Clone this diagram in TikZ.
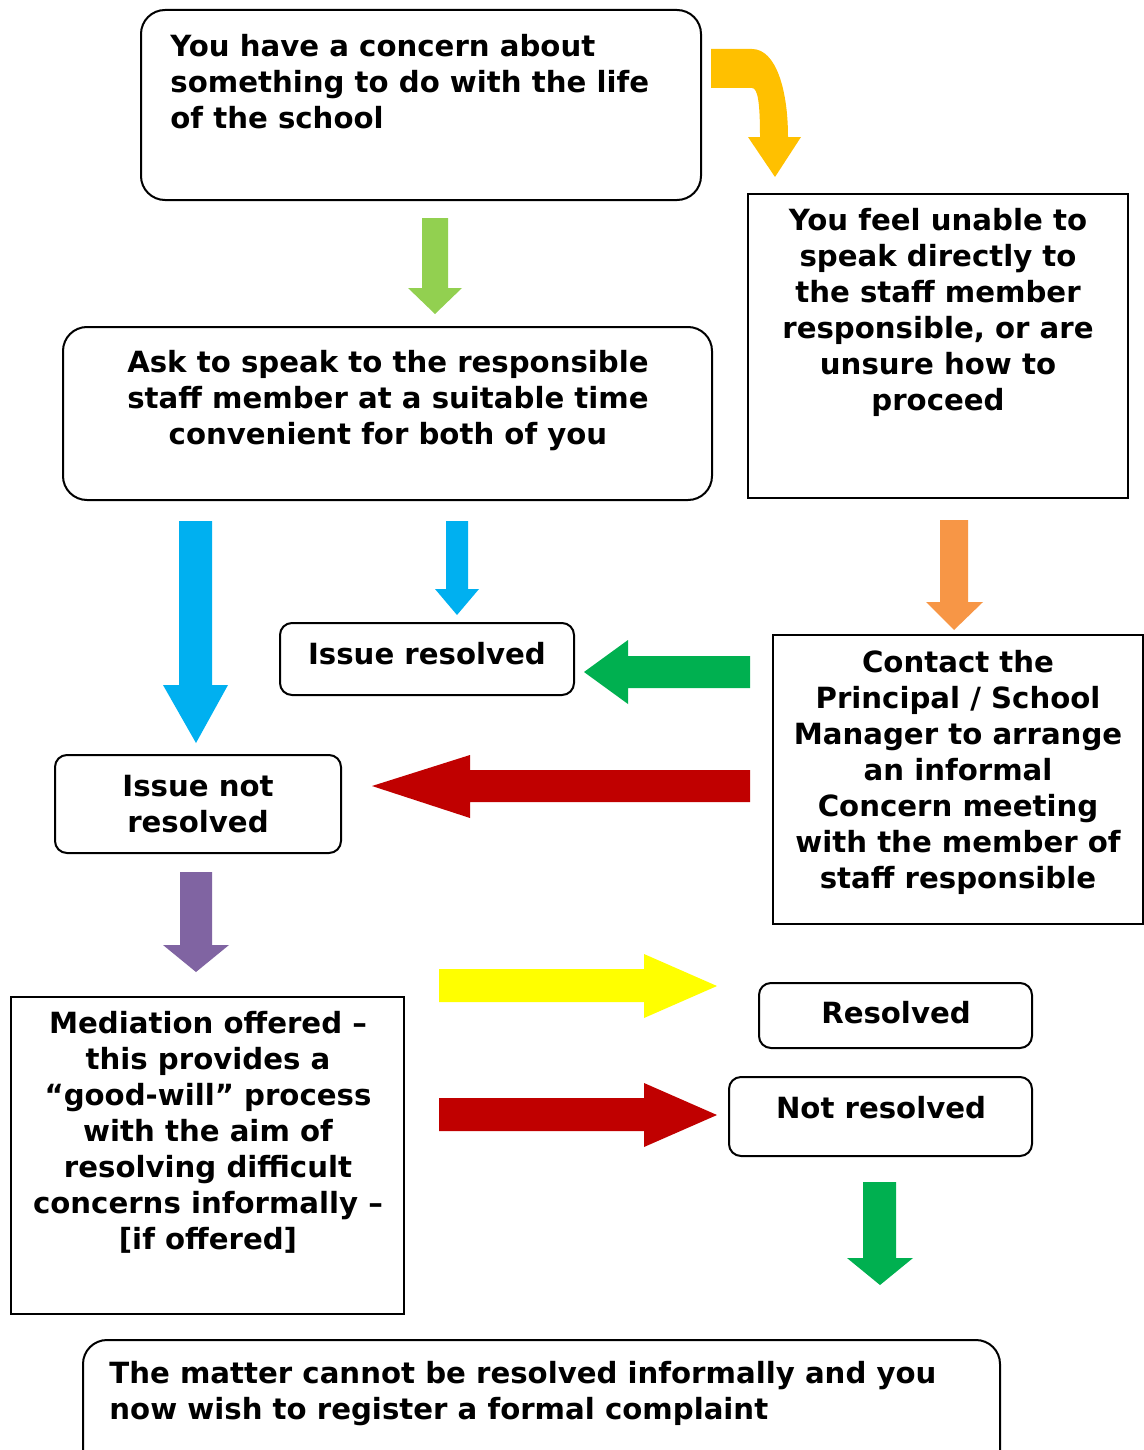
\documentclass[tikz,border=0pt]{standalone}
\usepackage{fontspec}
\setmainfont{DejaVu Sans}
\usetikzlibrary{fit}
\definecolor{cgold}{HTML}{FFC000}
\definecolor{clgreen}{HTML}{92D050}
\definecolor{cblue}{HTML}{00B0F0}
\definecolor{corange}{HTML}{F79646}
\definecolor{cgreen}{HTML}{00B050}
\definecolor{cred}{HTML}{C00000}
\definecolor{cpurple}{HTML}{8064A2}
\definecolor{cyellow}{HTML}{FFFF00}
\begin{document}
\begin{tikzpicture}[x=0.5pt,y=-0.5pt,
  rbox/.style={draw=black, line width=1pt, rounded corners=12pt, inner sep=0pt},
  rsbox/.style={draw=black, line width=1pt, rounded corners=6pt, inner sep=0pt},
  sbox/.style={draw=black, line width=1pt, inner sep=0pt},
  txt/.style={inner sep=0pt, font=\fontsize{14.6}{18}\selectfont\bfseries, align=center},
  ltxt/.style={inner sep=0pt, font=\fontsize{14.6}{18}\selectfont\bfseries, align=left}]
\fill[white] (0,0) rectangle (1144,1450);
\useasboundingbox (0,0) rectangle (1144,1450);

% boxes
\node[rbox, fit={(141,10) (701,200)}] (b1) {};
\node[sbox, fit={(748,194) (1128,498)}] (b2) {};
\node[rbox, fit={(63,327) (712,500)}] (b3) {};
\node[rsbox, fit={(280,623) (574,695)}] (b4) {};
\node[sbox, fit={(773,635) (1143,924)}] (b5) {};
\node[rsbox, fit={(55,755) (341,853)}] (b6) {};
\node[sbox, fit={(11,997) (404,1314)}] (b7) {};
\node[rsbox, fit={(759,983) (1032,1048)}] (b8) {};
\node[rsbox, fit={(729,1077) (1032,1156)}] (b9) {};
\node[rbox, fit={(83,1340) (1000,1490)}] (b10) {};

% texts
\node[ltxt, anchor=north west] (t1) at (170,34) {You have a concern about\\something to do with the life\\of the school};
\node[txt, anchor=north] (t2) at (938,208) {You feel unable to\\speak directly to\\the staff member\\responsible, or are\\unsure how to\\proceed};
\node[txt, anchor=north] (t3) at (388,350) {Ask to speak to the responsible\\staff member at a suitable time\\convenient for both of you};
\node[txt, anchor=north] (t4) at (427,642) {Issue resolved};
\node[txt, anchor=north] (t5) at (958,650) {Contact the\\Principal / School\\Manager to arrange\\an informal\\Concern meeting\\with the member of\\staff responsible};
\node[txt, anchor=north] (t6) at (198,775) {Issue not\\resolved};
\node[txt, anchor=north] (t7) at (208,1011) {Mediation offered –\\this provides a\\“good-will” process\\with the aim of\\resolving difficult\\concerns informally –\\{[if offered]}};
\node[txt, anchor=north] (t8) at (896,1001) {Resolved};
\node[txt, anchor=north] (t9) at (881,1096) {Not resolved};
\node[ltxt, anchor=north west] (t10) at (109,1361) {The matter cannot be resolved informally and you\\now wish to register a formal complaint};

% curved gold arrow
\fill[cgold] (711,49) -- (752,49) .. controls (776,49) and (788,90) .. (788,137)
  -- (801,137) -- (775,177) -- (748,137) -- (760,137)
  .. controls (760,104) and (758,88) .. (752,88) -- (711,88) -- cycle;

% down arrows
\fill[clgreen] (422,218) -- (448,218) -- (448,288) -- (462,288) -- (435,314) -- (408,288) -- (422,288) -- cycle;
\fill[cblue] (179,521) -- (212,521) -- (212,685) -- (228,685) -- (196,743) -- (163,685) -- (179,685) -- cycle;
\fill[cblue] (446,521) -- (468,521) -- (468,589) -- (479,589) -- (457,615) -- (435,589) -- (446,589) -- cycle;
\fill[corange] (940,520) -- (968,520) -- (968,602) -- (983,602) -- (954,630) -- (926,602) -- (940,602) -- cycle;
\fill[cpurple] (180,872) -- (212,872) -- (212,945) -- (229,945) -- (196,972) -- (163,945) -- (180,945) -- cycle;
\fill[cgreen] (863,1182) -- (896,1182) -- (896,1258) -- (913,1258) -- (880,1285) -- (847,1258) -- (863,1258) -- cycle;

% left arrows
\fill[cgreen] (750,656) -- (750,688) -- (628,688) -- (628,704) -- (584,672) -- (628,640) -- (628,656) -- cycle;
\fill[cred] (750,770) -- (750,802) -- (470,802) -- (470,818) -- (372,786) -- (470,755) -- (470,770) -- cycle;

% right arrows
\fill[cyellow] (439,969) -- (644,969) -- (644,954) -- (717,986) -- (644,1018) -- (644,1002) -- (439,1002) -- cycle;
\fill[cred] (439,1098) -- (644,1098) -- (644,1083) -- (717,1115) -- (644,1147) -- (644,1131) -- (439,1131) -- cycle;
\end{tikzpicture}
\end{document}
